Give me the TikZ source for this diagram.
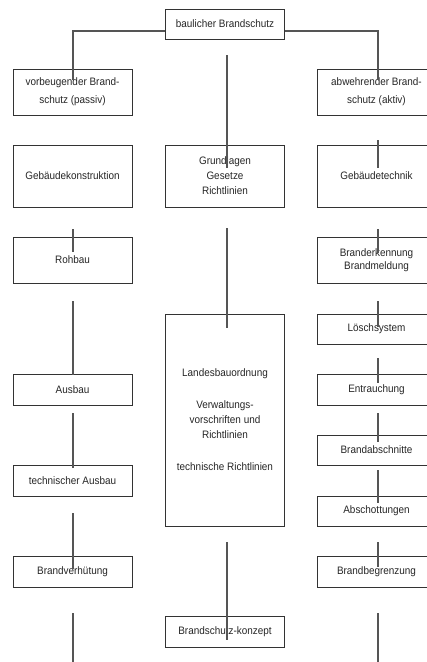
\documentclass[tikz,border=0pt]{standalone}
\usepackage{fontspec}
\setmainfont{Liberation Sans}[FakeStretch=0.92]
\usetikzlibrary{calc}
\definecolor{rahmen}{HTML}{333333}
\definecolor{linie}{HTML}{555555}
\tikzset{
  kasten/.style={draw=rahmen, line width=0.9pt, minimum width=119pt, minimum height=#1,
    inner sep=0pt, align=center, text=black!85, font=\fontsize{10.8}{15}\selectfont},
  kasten/.default=31pt,
  linie/.style={draw=linie, line width=1.1pt}
}
\begin{document}
\begin{tikzpicture}[x=1pt,y=-1pt]
\clip (0,0) rectangle (427,662);
\fill[white] (0,0) rectangle (427,662);
% Kopf
\node[kasten=30pt] (bau) at (225,24) {baulicher Brandschutz};
\node[kasten=46pt] (vorb) at (72.5,92) {vorbeugender Brand-\\[3pt]schutz (passiv)};
\node[kasten=46pt] (abw) at (376.5,92) {abwehrender Brand-\\[3pt]schutz (aktiv)};
% linke Spalte
\node[kasten=62pt] (konstr) at (72.5,176) {Gebäudekonstruktion};
\node[kasten=46pt] (rohbau) at (72.5,260) {Rohbau};
\node[kasten] (ausbau) at (72.5,389.5) {Ausbau};
\node[kasten] (techaus) at (72.5,480.5) {technischer Ausbau};
\node[kasten] (verh) at (72.5,571.5) {Brandverhütung};
% mittlere Spalte
\node[kasten=62pt] (grund) at (225,176) {Grundlagen\\Gesetze\\Richtlinien};
\node[kasten=212pt] (landes) at (225,420) {Landesbauordnung\\[17pt]Verwaltungs-\\vorschriften und\\Richtlinien\\[17pt]technische Richtlinien};
\node[kasten] (konzept) at (225,631.5) {Brandschutz-konzept};
% rechte Spalte
\node[kasten=62pt] (technik) at (376.5,176) {Gebäudetechnik};
\node[kasten=46pt] (melde) at (376.5,260) {Branderkennung\\[-2pt]Brandmeldung};
\node[kasten=30pt] (loesch) at (376.5,329) {Löschsystem};
\node[kasten] (rauch) at (376.5,389.5) {Entrauchung};
\node[kasten=30pt] (abschn) at (376.5,450) {Brandabschnitte};
\node[kasten=30pt] (schott) at (376.5,511) {Abschottungen};
\node[kasten] (begr) at (376.5,571.5) {Brandbegrenzung};
% Verbindungen
\draw[linie] ($(bau.west)+(0,7)$) -| ($(vorb.north)+(0.5,11)$);
\draw[linie] ($(bau.east)+(0,7)$) -| ($(abw.north)+(1.5,11)$);
\draw[linie] ($(bau.south)+(2,16)$) -- ($(grund.north)+(2,23)$);
\draw[linie] ($(grund.south)+(2,21)$) -- ($(landes.north)+(2,14)$);
\draw[linie] ($(landes.south)+(2,16)$) -- ($(konzept.north)+(2,24)$);
\draw[linie] ($(konstr.south)+(0.5,22)$) -- ($(rohbau.north)+(0.5,15)$);
\draw[linie] ($(rohbau.south)+(0.5,18)$) -- ($(ausbau.north)+(0.5,1)$);
\draw[linie] ($(ausbau.south)+(0.5,8)$) -- ($(techaus.north)+(0.5,3)$);
\draw[linie] ($(techaus.south)+(0.5,17)$) -- ($(verh.north)+(0.5,13)$);
\draw[linie] ($(verh.south)+(0.5,26)$) -- ($(verh.south)+(0.5,80)$);
\draw[linie] ($(abw.south)+(1.5,25)$) -- ($(technik.north)+(1.5,23)$);
\draw[linie] ($(technik.south)+(1.5,22)$) -- ($(melde.north)+(1.5,16)$);
\draw[linie] ($(melde.south)+(1.5,18)$) -- ($(loesch.north)+(1.5,13)$);
\draw[linie] ($(loesch.south)+(1.5,14)$) -- ($(rauch.north)+(1.5,9)$);
\draw[linie] ($(rauch.south)+(1.5,8)$) -- ($(abschn.north)+(1.5,7)$);
\draw[linie] ($(abschn.south)+(1.5,5)$) -- ($(schott.north)+(1.5,7)$);
\draw[linie] ($(schott.south)+(1.5,16)$) -- ($(begr.north)+(1.5,11)$);
\draw[linie] ($(begr.south)+(1.5,26)$) -- ($(begr.south)+(1.5,80)$);
\end{tikzpicture}
\end{document}
